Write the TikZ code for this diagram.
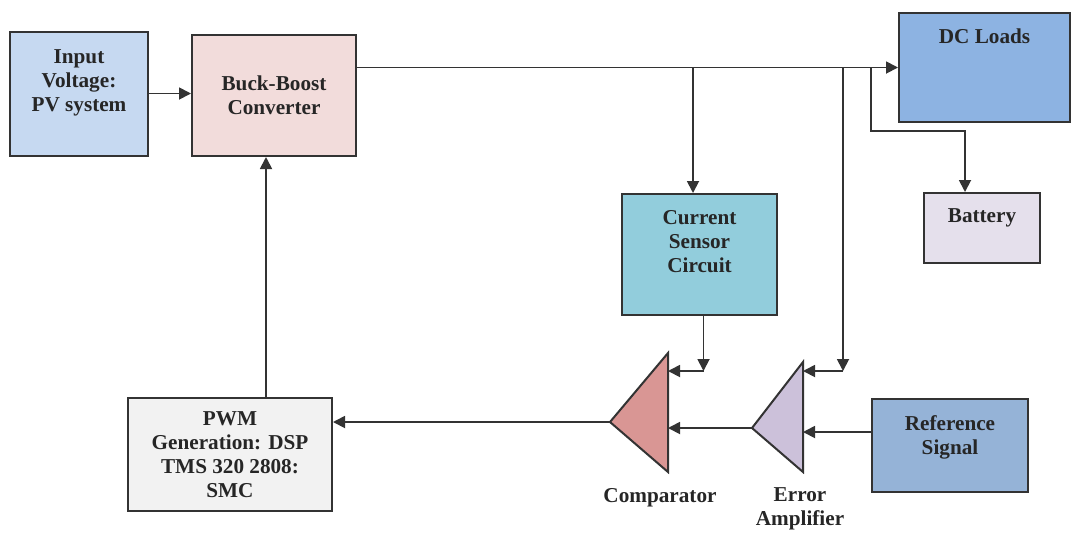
\documentclass[tikz,border=0pt]{standalone}
\usepackage{fontspec}
\setmainfont{Liberation Serif}
\usetikzlibrary{arrows.meta}

\definecolor{inpcol}{HTML}{C6D9F1}
\definecolor{bbcol}{HTML}{F2DCDB}
\definecolor{dccol}{HTML}{8DB3E2}
\definecolor{batcol}{HTML}{E5E0EC}
\definecolor{curcol}{HTML}{92CDDC}
\definecolor{refcol}{HTML}{95B3D7}
\definecolor{pwmcol}{HTML}{F2F2F2}
\definecolor{cmpcol}{HTML}{D99694}
\definecolor{errcol}{HTML}{CCC1DA}
\definecolor{edgecol}{HTML}{333333}

\tikzset{
  blk/.style={draw=edgecol, line width=1pt, inner sep=0pt},
  txt/.style={align=center, anchor=north, yshift=-5pt},
  conn/.style={draw=edgecol, line width=0.9pt, -{Triangle[length=6pt,width=6pt]}},
  wire/.style={draw=edgecol, line width=0.9pt}
}

\begin{document}
\begin{tikzpicture}[x=0.5pt, y=-0.5pt,
    font=\fontsize{10.6}{12}\selectfont\bfseries, text=black!85]
      \useasboundingbox (0,0) rectangle (1075,532);
      % top row
      \node [blk, fill=inpcol, minimum width=69pt, minimum height=62pt,
             label={[txt,yshift=-1pt]north:Input\\Voltage:\\PV system}] (inp) at (79,93.5) {};
      \node [blk, fill=bbcol, minimum width=82pt, minimum height=60.5pt,
             align=center] (bb) at (274,95.5) {Buck-Boost\\Converter};
      \node [blk, fill=dccol, minimum width=85.5pt, minimum height=54.5pt,
             label={[txt]north:DC Loads}] (dc) at (984.5,67.5) {};
      % middle row
      \node [blk, fill=curcol, minimum width=77.5pt, minimum height=60.5pt,
             label={[txt]north:Current\\Sensor\\Circuit}] (cur) at (699.5,254.5) {};
      \node [blk, fill=batcol, minimum width=58pt, minimum height=35pt,
             label={[txt]north:Battery}] (bat) at (982,228) {};
      % bottom row
      \node [blk, fill=pwmcol, minimum width=102pt, minimum height=56.5pt,
             align=center] (pwm) at (230,454.5) {PWM\\Generation: DSP\\TMS 320 2808:\\SMC};
      \node [blk, fill=refcol, minimum width=78pt, minimum height=46.5pt,
             label={[txt]north:Reference\\Signal}] (ref) at (950,445.5) {};

      % comparator and error amplifier
      \draw [blk, fill=cmpcol] (610,422) -- (668,353) -- (668,472) -- cycle;
      \draw [blk, fill=errcol] (752,428) -- (803,362) -- (803,472) -- cycle;
      \coordinate (cmpout) at (610,422);
      \coordinate (cmpa) at (668,371);
      \coordinate (cmpb) at (668,428);
      \coordinate (errout) at (752,428);
      \coordinate (erra) at (803,371);
      \coordinate (errb) at (803,432);
      \node (cmplbl) at (660,498) {Comparator};
      \node [align=center] (errlbl) at (800,509) {Error\\Amplifier};

      % taps on the dc bus
      \coordinate (tapcur) at (693,67.5);
      \coordinate (taperr) at (843,67.5);
      \coordinate (tapbat) at (871,67.5);

      % links
      \draw [conn] (inp) -- (inp -| bb.west);
      \draw [conn] (bb.east |- dc) -- (dc);
      \draw [conn] (tapcur) -- (tapcur |- cur.north);
      \draw [conn] (taperr) -- (taperr |- erra);
      \draw [conn] (taperr |- erra) -- (erra);
      \draw [conn] (tapbat) -- ++(0,63.5) -| ([xshift=-8.5pt]bat.north);
      \draw [conn] ([xshift=2pt]cur.south) -- ([xshift=2pt]cur.south |- cmpa);
      \draw [conn] ([xshift=2pt]cur.south |- cmpa) -- (cmpa);
      \draw [conn] (ref.west |- errb) -- (errb);
      \draw [conn] (errout) -- (cmpb);
      \draw [conn] (cmpout) -- (cmpout -| pwm.east);
      \draw [conn] ([xshift=-4pt]bb.south |- pwm.north) -- ([xshift=-4pt]bb.south);
    \end{tikzpicture}
\end{document}
